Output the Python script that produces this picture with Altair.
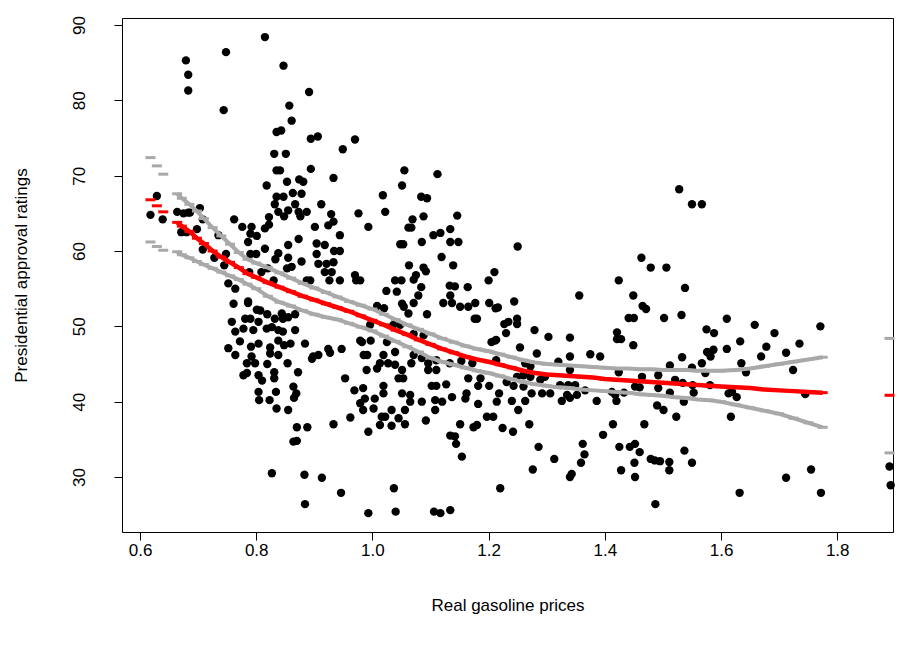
import altair as alt
import pandas as pd

# Scatter observations (real gasoline price, presidential approval)
px = [0.629,0.618,0.639,0.679,0.683,0.683,0.748,0.744,0.664,0.675,0.683,0.703,0.686,0.708,0.671,0.680,0.698,0.708,0.735,0.762,0.776,0.792,0.790,0.786,0.801,0.790,0.800,0.728,0.748,0.745,
      0.752,0.764,0.761,0.786,0.801,0.758,0.781,0.790,0.764,0.778,0.795,0.772,0.752,0.764,0.791,0.792,0.784,0.798,0.778,0.804,0.804,0.805,
      0.815,0.847,0.891,0.857,0.861,0.835,0.843,0.894,0.906,0.949,0.970,0.831,0.851,0.835,0.841,0.894,0.818,0.853,0.874,0.881,0.933,0.835,0.847,0.863,0.878,0.832,0.867,0.912,0.838,0.855,0.873,0.887,0.929,0.976,0.822,0.848,0.876,
      0.933,0.815,0.822,0.901,0.924,0.944,0.993,0.855,0.873,0.904,0.918,0.934,0.944,0.815,0.838,0.833,0.855,0.878,0.904,0.907,0.921,0.933,0.918,0.930,0.970,0.972,0.944,0.926,0.887,0.893,0.853,0.861,0.809,0.820,0.788,0.830,0.786,0.807,0.819,0.844,0.867,0.855,0.846,0.832,0.804,0.818,0.827,0.838,0.846,0.867,0.884,0.838,0.804,0.824,0.824,0.838,0.898,0.907,0.924,0.947,0.979,0.985,0.979,
      0.859,0.848,0.819,0.854,0.896,0.927,0.784,0.831,0.872,0.810,0.831,0.864,0.869,0.834,0.823,0.835,0.865,0.855,0.953,0.969,0.984,0.979,0.984,0.962,0.933,0.870,0.888,0.864,0.870,0.993,0.827,0.883,0.913,0.946,0.884,0.993,
      1.055,1.112,1.051,1.018,1.084,1.094,1.022,1.088,1.146,1.069,1.062,1.067,1.105,1.117,1.134,1.048,1.053,1.085,1.134,1.148,1.119,1.139,1.063,1.088,1.092,1.075,1.039,1.050,1.071,1.024,1.042,1.084,1.079,1.133,1.142,1.164,1.134,1.122,1.137,1.151,1.165,1.177,1.201,1.200,1.210,1.212,1.051,1.054,1.071,1.008,1.020,1.062,1.094,1.176,1.180,
      0.996,1.036,1.048,1.071,1.088,1.205,1.213,0.982,0.997,1.025,1.039,1.019,0.991,1.071,1.085,1.096,1.110,1.133,1.153,1.172,1.213,1.013,1.027,1.039,1.051,0.990,1.008,1.067,1.096,1.110,1.045,1.053,1.165,1.186,1.182,1.201,1.218,1.019,1.102,1.110,1.127,0.987,1.004,1.019,1.051,1.065,1.065,1.085,1.108,1.120,1.137,1.162,1.160,1.182,1.002,1.033,1.056,1.108,1.016,1.022,1.045,1.013,1.033,1.056,1.092,1.151,1.174,1.180,1.197,1.208,1.134,1.142,1.144,1.154,1.037,1.040,1.106,1.117,1.134,1.220,
      1.250,1.463,1.479,1.506,1.424,1.538,1.356,1.449,1.244,1.216,1.465,1.471,1.532,1.249,1.249,1.227,1.234,1.230,1.279,1.303,1.340,1.441,1.450,1.502,1.421,1.421,1.428,1.449,1.211,1.254,
      1.283,1.340,1.375,1.392,1.533,1.512,1.263,1.272,1.320,1.340,1.424,1.464,1.492,1.521,1.534,1.249,1.260,1.272,1.289,1.297,1.231,1.323,1.337,1.349,1.366,1.243,1.260,1.274,1.292,1.306,1.335,1.340,1.352,1.412,1.418,1.433,1.452,1.460,1.492,1.512,1.536,1.214,1.240,1.263,1.326,1.386,1.420,1.251,1.490,1.501,1.523,1.224,1.242,1.270,1.414,1.397,1.468,1.286,1.362,1.365,1.359,1.313,1.425,1.443,1.452,1.460,1.451,1.428,1.452,1.479,1.486,1.495,1.511,1.511,1.537,1.340,1.343,1.276,1.487,
      1.528,1.550,1.567,1.610,1.575,1.588,1.658,1.692,1.633,1.771,1.678,1.735,1.610,
      1.669,1.712,1.576,1.587,1.582,1.567,1.550,1.573,1.635,1.643,1.724,1.551,1.581,1.553,1.613,1.619,1.627,1.617,1.745,1.550,1.632,1.712,1.755,1.772,1.890,1.892]
py = [67.3,64.8,64.2,85.3,83.4,81.3,86.4,78.7,65.2,65.0,65.1,65.7,65.1,64.2,62.5,62.5,62.9,60.2,62.1,64.2,63.2,63.2,62.3,61.2,62.0,59.6,59.6,59.1,59.6,58.1,
      55.7,55.0,53.0,53.1,52.2,50.6,51.0,51.0,49.3,49.7,49.5,48.0,47.1,46.2,47.3,46.0,45.1,45.1,43.5,43.5,41.3,40.2,
      88.4,84.6,81.1,79.3,77.3,75.8,76.0,74.9,75.2,73.5,74.8,72.9,72.9,70.7,70.7,70.9,68.7,69.2,69.5,69.2,69.7,67.2,67.2,67.7,67.6,66.2,66.2,66.2,65.2,65.4,65.2,65.2,64.9,65.0,64.5,64.6,64.6,
      63.9,63.0,63.5,63.2,63.4,62.1,63.2,60.8,61.6,61.0,60.8,60.0,60.0,60.3,59.7,58.9,59.1,58.6,59.6,58.3,58.3,58.5,57.2,57.2,56.8,56.1,56.1,56.1,56.1,56.1,57.7,57.9,57.2,57.7,57.2,56.1,53.3,52.1,51.6,51.7,51.6,51.2,51.0,51.0,50.6,49.7,49.9,49.5,49.3,49.5,47.7,48.1,47.7,47.2,46.4,46.2,46.0,46.2,47.0,47.0,48.1,46.2,56.1,
      47.7,47.5,45.0,45.1,45.7,46.5,43.8,43.9,43.9,42.8,43.1,42.0,41.1,41.3,40.2,39.1,40.5,38.9,43.1,41.5,41.8,39.8,38.9,37.9,37.0,36.6,36.6,34.7,34.8,36.0,30.5,30.3,29.9,27.9,26.4,25.2,
      70.7,70.2,68.7,67.4,67.2,67.0,65.2,64.6,64.7,64.2,63.1,63.1,62.1,62.4,62.9,60.9,60.9,61.2,61.2,61.2,59.2,58.1,58.1,57.8,57.3,56.8,56.1,56.1,56.2,54.7,54.6,55.2,54.1,55.4,55.3,55.2,54.1,53.1,53.1,52.6,52.6,53.1,53.1,56.1,57.2,52.4,53.0,52.6,53.1,52.7,52.4,51.7,51.6,51.0,51.0,
      50.2,50.2,50.2,49.0,48.8,47.9,48.2,47.9,48.1,47.9,46.6,46.2,46.2,46.2,45.8,45.1,45.5,45.1,45.4,45.1,45.5,45.1,45.1,44.9,44.2,44.2,44.4,45.1,44.2,44.2,43.1,43.1,43.1,43.1,42.1,42.1,41.1,42.1,42.1,42.1,42.3,40.4,40.4,41.1,41.1,40.9,40.0,40.0,40.2,40.0,40.6,41.1,40.4,39.7,39.1,38.9,38.9,38.9,38.0,38.0,37.8,36.9,36.8,37.0,37.5,37.0,36.6,36.9,38.0,38.0,35.5,35.4,34.4,32.7,28.5,25.4,25.4,25.2,25.6,28.5,
      60.6,59.1,57.8,57.8,56.1,55.1,54.1,54.1,53.3,52.5,52.7,52.3,51.5,51.0,50.3,50.3,50.6,49.1,49.5,48.6,48.5,51.1,51.1,51.1,49.2,48.3,48.3,47.5,48.1,47.2,
      46.4,46.0,46.3,46.0,45.9,44.8,45.1,44.7,45.3,44.2,43.9,43.3,43.5,42.9,42.5,43.3,43.5,43.3,42.9,43.3,42.6,42.2,42.2,42.2,41.5,42.1,42.0,41.1,41.1,41.1,40.9,40.5,40.9,41.3,40.9,41.2,42.0,41.9,41.8,41.2,40.0,40.0,40.1,40.1,40.1,40.1,40.1,38.9,39.5,38.9,38.0,36.5,36.0,37.0,37.0,35.6,37.0,34.0,34.4,33.0,31.9,32.4,34.0,34.0,34.4,33.3,31.9,30.9,30.0,32.4,32.2,32.1,32.0,30.9,33.5,30.0,30.4,31.0,26.4,
      68.2,66.2,66.2,51.0,49.6,49.1,50.2,49.1,48.0,50.0,47.3,47.7,47.0,
      46.0,46.5,46.6,46.9,46.0,45.1,44.5,43.8,45.1,43.9,44.2,42.2,42.2,41.2,41.1,41.3,40.6,38.0,41.0,31.9,27.9,29.9,31.0,27.9,31.4,28.9]

# Smoothed fit with confidence band, drawn as short dashes
cx = [0.618,0.629,0.640,0.664,0.672,0.685,0.698,0.710,0.725,0.740,0.755,0.770,0.785,0.800,0.820,0.840,0.860,0.880,0.900,0.920,0.940,0.960,0.980,1.000,
      1.020,1.040,1.060,1.080,1.100,1.120,1.140,1.160,1.180,1.200,1.220,1.240,1.260,1.280,1.300,1.320,1.340,1.360,1.380,1.400,1.420,1.440,1.460,1.480,
      1.500,1.520,1.540,1.560,1.580,1.600,1.625,1.650,1.675,1.700,1.725,1.750,1.775,1.890]
fit = [66.8,66.0,65.2,63.8,63.3,62.6,61.7,61.0,60.0,59.2,58.5,57.8,57.0,56.5,55.8,55.2,54.6,54.0,53.5,53.0,52.5,52.0,51.4,50.8,
       50.2,49.5,48.9,48.2,47.6,47.0,46.5,46.0,45.6,45.3,44.9,44.5,44.1,43.8,43.6,43.5,43.4,43.3,43.2,43.0,42.9,42.8,42.7,42.6,
       42.5,42.4,42.3,42.2,42.1,42.0,41.9,41.8,41.6,41.5,41.4,41.3,41.2,40.85]
upper = [72.4,71.3,70.2,67.6,67.0,66.2,65.3,64.3,63.1,62.0,60.9,59.8,58.9,58.4,57.8,57.1,56.4,55.7,55.1,54.5,53.9,53.3,52.8,52.3,
         51.6,50.9,50.2,49.6,49.0,48.4,47.9,47.4,47.0,46.7,46.3,45.9,45.5,45.2,45.0,44.9,44.8,44.7,44.6,44.5,44.4,44.4,44.3,44.3,
         44.2,44.2,44.2,44.1,44.1,44.1,44.2,44.4,44.7,45.0,45.3,45.6,45.9,48.4]
lower = [61.2,60.6,60.1,59.9,59.5,59.1,58.6,58.2,57.7,57.2,56.7,56.2,55.6,55.0,54.0,53.2,52.7,52.1,51.6,51.2,50.9,50.4,49.9,49.4,
         48.7,48.0,47.3,46.6,45.8,45.3,44.9,44.5,44.1,43.8,43.4,43.0,42.6,42.3,42.1,41.9,41.8,41.6,41.5,41.4,41.3,41.2,41.0,40.9,
         40.8,40.6,40.5,40.3,40.2,40.0,39.6,39.2,38.8,38.4,37.8,37.2,36.6,33.2]

x_ticks = [0.6, 0.8, 1.0, 1.2, 1.4, 1.6, 1.8]
y_ticks = [30, 40, 50, 60, 70, 80, 90]

pts = pd.DataFrame({"x": px, "y": py})
band = pd.DataFrame({"x": cx * 2, "y": upper + lower,
                     "side": ["upper"] * len(cx) + ["lower"] * len(cx)})
fitdf = pd.DataFrame({"x": cx, "y": fit})

FONT = "Liberation Sans"
xs = alt.Scale(domain=[0.569, 1.896], nice=False, zero=False)
ys = alt.Scale(domain=[22.7, 90.93], nice=False, zero=False)

xenc = alt.X("x:Q", scale=xs, title="Real gasoline prices",
             axis=alt.Axis(values=x_ticks, format=".1f", labelPadding=2, titlePadding=39))
yenc = alt.Y("y:Q", scale=ys, title="Presidential approval ratings",
             axis=alt.Axis(values=y_ticks, format="d", labelAngle=270, labelAlign="center",
                           labelBaseline="bottom", labelPadding=26,
                           titleAngle=270, titleAlign="center", titleBaseline="bottom",
                           titleX=-92, titleY=257))

dense = alt.datum.x >= 0.66
dense_fit = alt.datum.x <= 1.78

points = alt.Chart(pts).mark_circle(color="black", opacity=1, size=70).encode(x=xenc, y=yenc)
band_ticks = alt.Chart(band).mark_tick(orient="horizontal", color="#A9A9A9", size=10, thickness=3, opacity=1).encode(x="x:Q", y="y:Q")
band_line = alt.Chart(band).transform_filter(dense).transform_filter(dense_fit).mark_line(
    color="#A9A9A9", strokeWidth=4).encode(x="x:Q", y="y:Q", detail="side:N")
fit_ticks = alt.Chart(fitdf).mark_tick(orient="horizontal", color="#FF0000", size=10, thickness=3, opacity=1).encode(x="x:Q", y="y:Q")
fit_line = alt.Chart(fitdf).transform_filter(dense).transform_filter(dense_fit).mark_line(
    color="#FF0000", strokeWidth=4.5).encode(x="x:Q", y="y:Q")

chart = alt.layer(points, band_line, band_ticks, fit_line, fit_ticks).properties(
    width=771, height=514,
    autosize=alt.AutoSizeParams(type="none"),
    padding={"left": 114, "top": 10, "right": 10, "bottom": 107},
).configure_view(stroke="black", strokeWidth=1).configure_axis(
    domain=False, grid=False, ticks=True, tickColor="black", tickSize=8, tickWidth=1,
    labelFont=FONT, titleFont=FONT, labelFontSize=17, titleFontSize=17,
    labelColor="black", titleColor="black", titleFontWeight="normal",
)

chart.save("out.html", embed_options={"renderer": "svg", "actions": False})
